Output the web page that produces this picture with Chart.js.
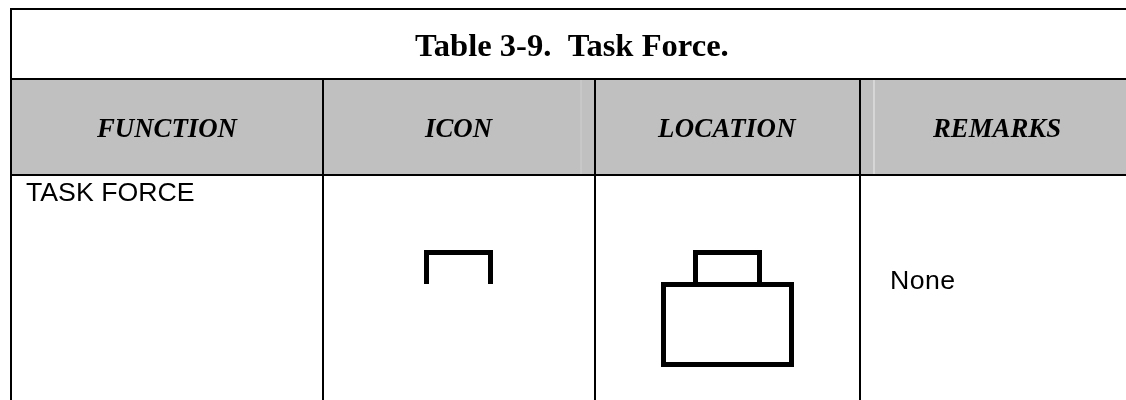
<!DOCTYPE html>
<html>
<head>
<meta charset="utf-8">
<title>Table 3-9. Task Force.</title>
<script src="https://cdn.jsdelivr.net/npm/chart.js@4"></script>
<style>
  html, body { margin: 0; padding: 0; background: #fff; }
  #wrap { width: 1126px; height: 400px; }
</style>
</head>
<body>
<div id="wrap"><canvas id="table"></canvas></div>
<script>
// table text
const tableTitle = 'Table 3-9.  Task Force.';
const columns = ['FUNCTION', 'ICON', 'LOCATION', 'REMARKS'];
const rowFunction = 'TASK FORCE';
const rowRemarks = 'None';

// icon outlines in picture units
const iconX = [426.5, 426.5, 490.5, 490.5];
const iconY = [284, 252.5, 252.5, 284];
const tabX = [695.5, 695.5, 759.5, 759.5];
const tabY = [284, 252.5, 252.5, 284];
const boxX = [727, 663.5, 663.5, 791.5, 791.5, 727];
const boxY = [284.5, 284.5, 364.5, 364.5, 284.5, 284.5];

// table rules
const ruleTop = 9, ruleHead = 79, ruleBody = 175;
const ruleLeft = 11, ruleRight = 1126, ruleBottom = 400;
const columnRules = [323, 595, 860];
const faintRules = [581, 874];
const faintColors = ['#C9C9C9', '#DADADA'];

const BLACK = '#000000';
const GREY = '#C0C0C0';

const pts = (xs, ys) => xs.map((x, i) => ({ x, y: ys[i] }));
const line = (data, width, color) => ({
  data, borderColor: color || BLACK, borderWidth: width,
  showLine: true, pointRadius: 0, fill: false, tension: 0,
  borderCapStyle: 'butt', borderJoinStyle: 'miter', clip: false
});
const hLine = y => line(pts([ruleLeft - 1, ruleRight], [y, y]), 2);
const vLine = (x, y0) => line(pts([x, x], [y0, ruleBottom]), 2);

const headBand = {
  ...line(pts([ruleLeft, ruleRight], [ruleHead, ruleHead]), 0, GREY),
  backgroundColor: GREY,
  fill: { value: ruleBody }
};

// chart.js paints the first dataset last, so the band goes at the end
const datasets = [
  line(pts(boxX, boxY), 5),
  line(pts(tabX, tabY), 5),
  line(pts(iconX, iconY), 5),
  ...columnRules.map(x => vLine(x, ruleHead)),
  vLine(ruleLeft, ruleTop - 1),
  hLine(ruleTop), hLine(ruleHead), hLine(ruleBody),
  ...faintRules.map((x, i) => line(pts([x, x], [ruleHead + 1, ruleBody - 1]), 1, faintColors[i])),
  headBand
];

// text is placed through the same scales as the rules
const headX = [97, 425, 658, 933];
const cellText = {
  id: 'cellText',
  afterDatasetsDraw(chart) {
    const { ctx, scales: { x, y } } = chart;
    const put = (text, px, py, font, spacing) => {
      ctx.font = font;
      ctx.letterSpacing = spacing || '0px';
      ctx.fillText(text, x.getPixelForValue(px), y.getPixelForValue(py));
    };
    ctx.save();
    ctx.fillStyle = BLACK;
    ctx.textAlign = 'left';
    ctx.textBaseline = 'alphabetic';
    put(tableTitle, 415, 56, "bold 32.6px 'Liberation Serif'");
    columns.forEach((c, i) => put(c, headX[i], 137, "italic bold 26.8px 'Liberation Serif'", i === 2 ? '0.3px' : '0px'));
    put(rowFunction, 26, 201, "26.7px 'Liberation Sans'");
    put(rowRemarks, 890, 289, "26.7px 'Liberation Sans'", '0.4px');
    ctx.restore();
  }
};

new Chart(document.getElementById('table'), {
  type: 'scatter',
  data: { datasets },
  plugins: [cellText],
  options: {
    responsive: true, maintainAspectRatio: false, animation: false,
    layout: { padding: 0 },
    plugins: { legend: { display: false }, tooltip: { enabled: false }, title: { display: false } },
    scales: {
      x: { type: 'linear', display: false, min: 0, max: 1126 },
      y: { type: 'linear', display: false, min: 0, max: 400, reverse: true }
    }
  }
});
</script>
</body>
</html>
